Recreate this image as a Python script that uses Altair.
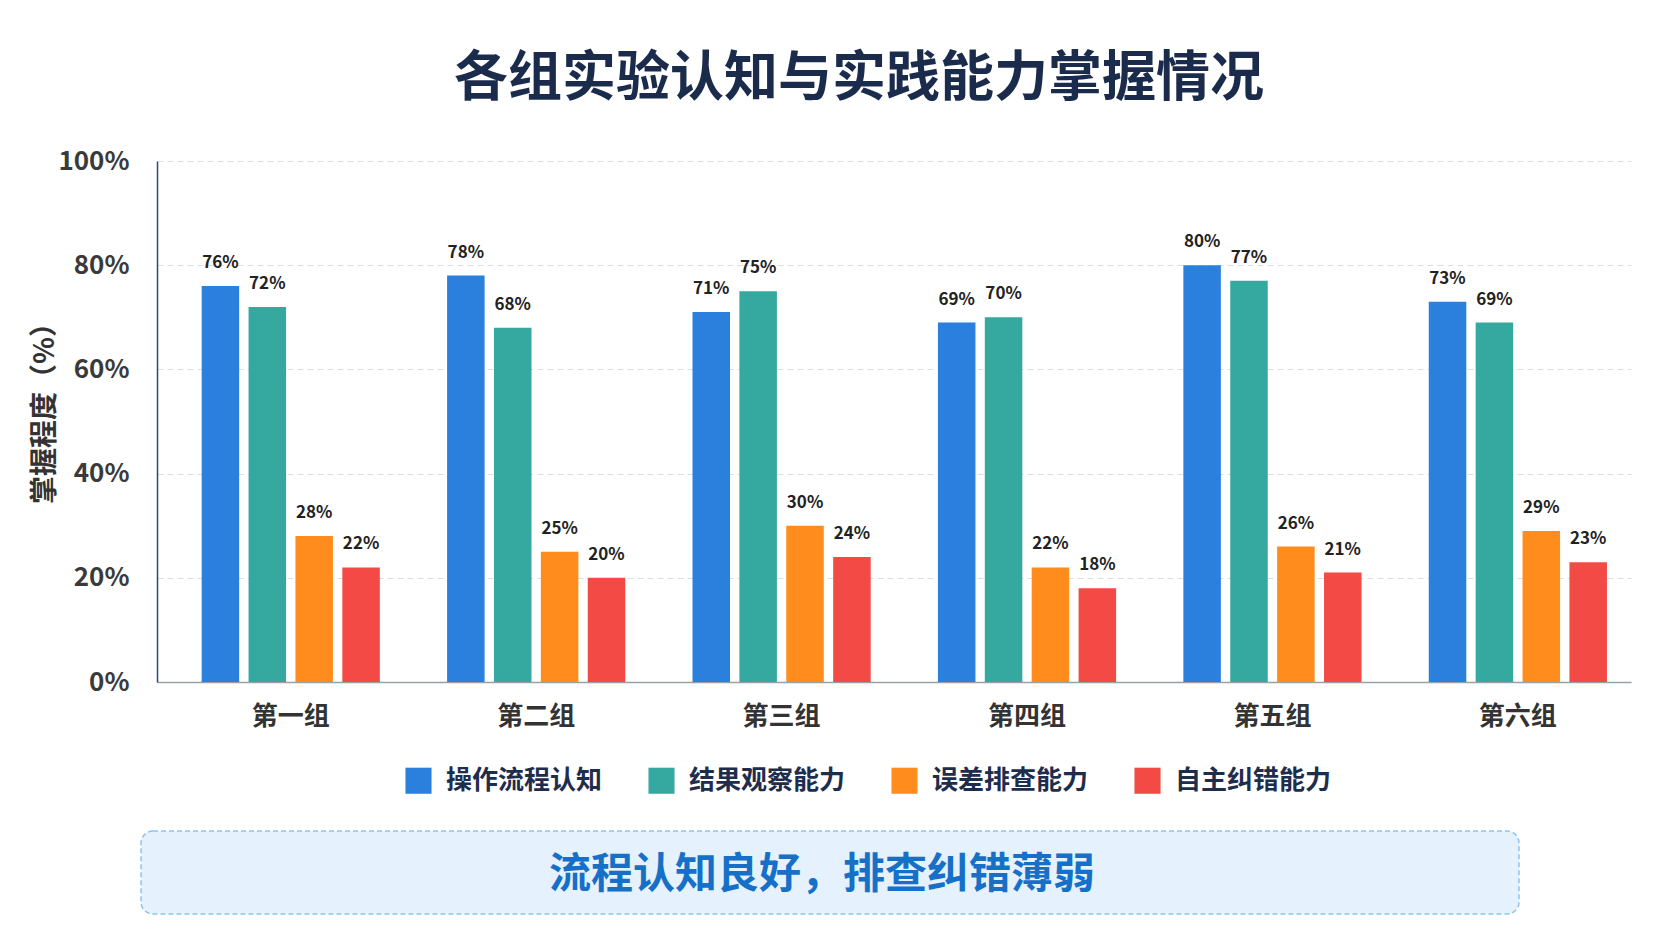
import altair as alt
import pandas as pd

groups = ["第一组", "第二组", "第三组", "第四组", "第五组", "第六组"]
series = ["操作流程认知", "结果观察能力", "误差排查能力", "自主纠错能力"]
colors = ["#2A80DC", "#35A99F", "#FF8C1D", "#F44A45"]

v_flow = [76, 78, 71, 69, 80, 73]
v_observe = [72, 68, 75, 70, 77, 69]
v_debug = [28, 25, 30, 22, 26, 29]
v_fix = [22, 20, 24, 18, 21, 23]

y_ticks = [0, 20, 40, 60, 80, 100]
title_text = "各组实验认知与实践能力掌握情况"
y_title = "掌握程度（%）"
conclusion = "流程认知良好，排查纠错薄弱"

FONT = "Noto Sans CJK SC"

rows = []
for s, vals in zip(series, [v_flow, v_observe, v_debug, v_fix]):
    for g, v in zip(groups, vals):
        rows.append({"group": g, "series": s, "value": v, "label": f"{v}%"})
df = pd.DataFrame(rows)

x_enc = alt.X(
    "group:N",
    sort=groups,
    scale=alt.Scale(paddingInner=0.274, paddingOuter=0.14, align=0.65),
    axis=alt.Axis(
        title=None, labelAngle=0, labelFontSize=26, labelFontWeight="bold",
        labelColor="#333333", labelPadding=21, ticks=False,
        domainColor="#9AA0A6", domainWidth=1.5, labelFont=FONT,
    ),
)
xoff_enc = alt.XOffset("series:N", sort=series,
                       scale=alt.Scale(paddingInner=0.2, paddingOuter=0))
y_enc = alt.Y(
    "value:Q",
    scale=alt.Scale(domain=[0, 100]),
    axis=alt.Axis(
        values=y_ticks, labelExpr="datum.value + '%'", title=y_title,
        labelFontSize=26, labelFontWeight="bold", labelColor="#3A3A3A",
        labelPadding=28, ticks=False, domainColor="#2B4A6F", domainWidth=1.5,
        gridColor="#DDDDDD", gridDash=[6, 4], gridWidth=1,
        titleFontSize=28, titleFontWeight="bold", titleColor="#333333",
        titlePadding=-2, titleY=245, labelFont=FONT, titleFont=FONT,
    ),
)

bars = alt.Chart(df).mark_bar().encode(
    x=x_enc,
    xOffset=xoff_enc,
    y=y_enc,
    color=alt.Color(
        "series:N", sort=series,
        scale=alt.Scale(domain=series, range=colors),
        legend=alt.Legend(
            title=None, orient="none", direction="horizontal",
            legendX=248, legendY=606, symbolType="square", symbolSize=680,
            symbolStrokeWidth=0, labelFontSize=26, labelFontWeight="bold",
            labelColor="#1F2D4D", labelFont=FONT, labelOffset=14,
            columnPadding=45, labelLimit=300,
        ),
    ),
)

labels = alt.Chart(df).mark_text(
    baseline="bottom", dy=-14, fontSize=17, fontWeight="bold",
    color="#222222", font=FONT,
).encode(
    x=alt.X("group:N", sort=groups),
    xOffset=alt.XOffset("series:N", sort=series),
    y="value:Q",
    text="label:N",
)

box_df = pd.DataFrame({"text": [conclusion]})
box = alt.Chart(box_df).mark_rect(
    fill="#E5F1FC", stroke="#8CC3F2", strokeDash=[5, 3], strokeWidth=1.5,
    cornerRadius=12,
).encode(
    x=alt.value(-16), x2=alt.value(1362), y=alt.value(670), y2=alt.value(753),
)
box_text = alt.Chart(box_df).mark_text(
    fontSize=42, fontWeight="bold", color="#1670C8", font=FONT,
    align="center", baseline="middle",
).encode(
    x=alt.value(665), y=alt.value(714), text="text:N",
)

chart = alt.layer(bars, labels, box, box_text).properties(
    width=1474,
    height=521,
    autosize=alt.AutoSizeParams(type="none"),
    padding={"left": 149, "top": 153, "right": 33, "bottom": 259},
    background="#FFFFFF",
    title=alt.Title(
        title_text, fontSize=54, fontWeight="bold", color="#1B2B4B",
        font=FONT, anchor="middle", frame="group", offset=41, dx=-35,
    ),
).configure_view(stroke=None)

chart.save("out.html", embed_options={"renderer": "svg", "actions": False})
